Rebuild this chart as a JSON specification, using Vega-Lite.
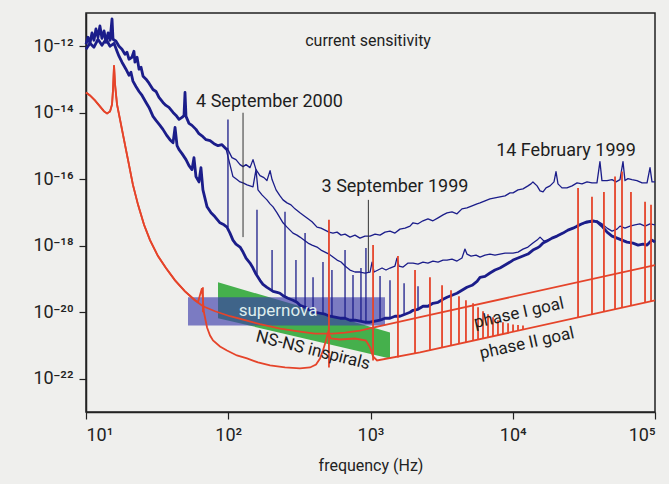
{
  "$schema": "https://vega.github.io/schema/vega-lite/v6.json",
  "width": 569,
  "height": 399,
  "autosize": "none",
  "padding": {"left": 86, "top": 13, "right": 14, "bottom": 72},
  "background": "#efefed",
  "config": {
    "view": {"stroke": "#222222", "strokeWidth": 1.5},
    "font": "Roboto",
    "axis": {"grid": false, "domainColor": "#222222", "tickColor": "#222222", "labelColor": "#222222", "titleColor": "#222222", "labelFont": "Roboto", "titleFont": "Roboto", "domainWidth": 1.5, "tickWidth": 1.2, "tickSize": 7}
  },
  "datasets": {
    "blue": [
      {"s":"band","lf":1.000,"lh":-11.94},{"s":"band","lf":1.014,"lh":-11.73},{"s":"band","lf":1.028,"lh":-11.91},{"s":"band","lf":1.042,"lh":-11.60},{"s":"band","lf":1.056,"lh":-11.82},{"s":"band","lf":1.070,"lh":-11.48},{"s":"band","lf":1.084,"lh":-11.73},{"s":"band","lf":1.098,"lh":-11.39},{"s":"band","lf":1.112,"lh":-11.76},{"s":"band","lf":1.127,"lh":-11.54},{"s":"band","lf":1.141,"lh":-11.88},{"s":"band","lf":1.155,"lh":-11.60},{"s":"band","lf":1.169,"lh":-11.82},{"s":"band","lf":1.183,"lh":-11.18},{"s":"band","lf":1.190,"lh":-11.79},{"s":"band","lf":1.211,"lh":-11.85},{"s":"band","lf":1.232,"lh":-12.00},{"s":"band","lf":1.253,"lh":-12.09},{"s":"band","lf":1.274,"lh":-12.24},{"s":"band","lf":1.288,"lh":-12.18},{"s":"band","lf":1.302,"lh":-12.39},{"s":"band","lf":1.323,"lh":-12.33},{"s":"band","lf":1.337,"lh":-12.15},{"s":"band","lf":1.344,"lh":-12.48},{"s":"band","lf":1.359,"lh":-12.33},{"s":"band","lf":1.373,"lh":-12.69},{"s":"band","lf":1.387,"lh":-12.63},{"s":"band","lf":1.401,"lh":-12.90},{"s":"band","lf":1.422,"lh":-12.99},{"s":"band","lf":1.443,"lh":-13.11},{"s":"band","lf":1.471,"lh":-13.30},{"s":"band","lf":1.492,"lh":-13.36},{"s":"band","lf":1.513,"lh":-13.54},{"s":"band","lf":1.541,"lh":-13.69},{"s":"band","lf":1.562,"lh":-13.78},{"s":"band","lf":1.583,"lh":-13.84},{"s":"band","lf":1.612,"lh":-13.99},{"s":"band","lf":1.633,"lh":-14.08},{"s":"band","lf":1.654,"lh":-14.20},{"s":"band","lf":1.675,"lh":-14.14},{"s":"band","lf":1.689,"lh":-14.08},{"s":"band","lf":1.696,"lh":-13.39},{"s":"band","lf":1.703,"lh":-14.11},{"s":"band","lf":1.724,"lh":-14.32},{"s":"band","lf":1.745,"lh":-14.38},{"s":"band","lf":1.773,"lh":-14.50},{"s":"band","lf":1.794,"lh":-14.63},{"s":"band","lf":1.822,"lh":-14.72},{"s":"band","lf":1.844,"lh":-14.81},{"s":"band","lf":1.872,"lh":-14.84},{"s":"band","lf":1.900,"lh":-14.93},{"s":"band","lf":1.928,"lh":-14.99},{"s":"band","lf":1.956,"lh":-14.96},{"s":"band","lf":1.984,"lh":-15.08},{"s":"band","lf":1.998,"lh":-15.11},

      {"s":"14 February 1999","lf":1.998,"lh":-15.11},{"s":"14 February 1999","lf":2.026,"lh":-15.35},{"s":"14 February 1999","lf":2.054,"lh":-15.41},{"s":"14 February 1999","lf":2.083,"lh":-15.56},{"s":"14 February 1999","lf":2.104,"lh":-15.62},{"s":"14 February 1999","lf":2.125,"lh":-15.56},{"s":"14 February 1999","lf":2.153,"lh":-15.65},{"s":"14 February 1999","lf":2.174,"lh":-15.41},{"s":"14 February 1999","lf":2.195,"lh":-15.71},{"s":"14 February 1999","lf":2.223,"lh":-15.89},{"s":"14 February 1999","lf":2.251,"lh":-15.95},{"s":"14 February 1999","lf":2.272,"lh":-16.04},{"s":"14 February 1999","lf":2.294,"lh":-15.74},{"s":"14 February 1999","lf":2.308,"lh":-16.01},{"s":"14 February 1999","lf":2.336,"lh":-16.32},{"s":"14 February 1999","lf":2.364,"lh":-16.50},{"s":"14 February 1999","lf":2.385,"lh":-16.62},{"s":"14 February 1999","lf":2.413,"lh":-16.71},{"s":"14 February 1999","lf":2.441,"lh":-16.77},{"s":"14 February 1999","lf":2.469,"lh":-16.89},{"s":"14 February 1999","lf":2.504,"lh":-17.01},{"s":"14 February 1999","lf":2.532,"lh":-17.10},{"s":"14 February 1999","lf":2.561,"lh":-17.19},{"s":"14 February 1999","lf":2.589,"lh":-17.28},{"s":"14 February 1999","lf":2.624,"lh":-17.44},{"s":"14 February 1999","lf":2.652,"lh":-17.47},{"s":"14 February 1999","lf":2.680,"lh":-17.53},{"s":"14 February 1999","lf":2.708,"lh":-17.59},{"s":"14 February 1999","lf":2.736,"lh":-17.62},{"s":"14 February 1999","lf":2.765,"lh":-17.59},{"s":"14 February 1999","lf":2.793,"lh":-17.68},{"s":"14 February 1999","lf":2.821,"lh":-17.65},{"s":"14 February 1999","lf":2.856,"lh":-17.74},{"s":"14 February 1999","lf":2.891,"lh":-17.68},{"s":"14 February 1999","lf":2.926,"lh":-17.77},{"s":"14 February 1999","lf":2.961,"lh":-17.71},{"s":"14 February 1999","lf":2.997,"lh":-17.71},{"s":"14 February 1999","lf":3.032,"lh":-17.65},{"s":"14 February 1999","lf":3.067,"lh":-17.68},{"s":"14 February 1999","lf":3.102,"lh":-17.59},{"s":"14 February 1999","lf":3.137,"lh":-17.56},{"s":"14 February 1999","lf":3.172,"lh":-17.62},{"s":"14 February 1999","lf":3.207,"lh":-17.50},{"s":"14 February 1999","lf":3.243,"lh":-17.47},{"s":"14 February 1999","lf":3.278,"lh":-17.41},{"s":"14 February 1999","lf":3.299,"lh":-17.31},{"s":"14 February 1999","lf":3.334,"lh":-17.34},{"s":"14 February 1999","lf":3.369,"lh":-17.25},{"s":"14 February 1999","lf":3.404,"lh":-17.19},{"s":"14 February 1999","lf":3.439,"lh":-17.25},{"s":"14 February 1999","lf":3.475,"lh":-17.16},{"s":"14 February 1999","lf":3.510,"lh":-17.07},{"s":"14 February 1999","lf":3.538,"lh":-17.01},{"s":"14 February 1999","lf":3.573,"lh":-16.98},{"s":"14 February 1999","lf":3.608,"lh":-17.04},{"s":"14 February 1999","lf":3.643,"lh":-16.89},{"s":"14 February 1999","lf":3.678,"lh":-16.86},{"s":"14 February 1999","lf":3.714,"lh":-16.80},{"s":"14 February 1999","lf":3.749,"lh":-16.74},{"s":"14 February 1999","lf":3.770,"lh":-16.71},{"s":"14 February 1999","lf":3.805,"lh":-16.65},{"s":"14 February 1999","lf":3.840,"lh":-16.59},{"s":"14 February 1999","lf":3.875,"lh":-16.56},{"s":"14 February 1999","lf":3.910,"lh":-16.53},{"s":"14 February 1999","lf":3.946,"lh":-16.50},{"s":"14 February 1999","lf":3.981,"lh":-16.41},{"s":"14 February 1999","lf":4.002,"lh":-16.41},{"s":"14 February 1999","lf":4.037,"lh":-16.32},{"s":"14 February 1999","lf":4.072,"lh":-16.29},{"s":"14 February 1999","lf":4.107,"lh":-16.20},{"s":"14 February 1999","lf":4.128,"lh":-16.14},{"s":"14 February 1999","lf":4.142,"lh":-16.08},{"s":"14 February 1999","lf":4.171,"lh":-16.20},{"s":"14 February 1999","lf":4.192,"lh":-16.35},{"s":"14 February 1999","lf":4.213,"lh":-16.38},{"s":"14 February 1999","lf":4.234,"lh":-16.26},{"s":"14 February 1999","lf":4.262,"lh":-16.20},{"s":"14 February 1999","lf":4.290,"lh":-16.08},{"s":"14 February 1999","lf":4.304,"lh":-15.77},{"s":"14 February 1999","lf":4.318,"lh":-16.14},{"s":"14 February 1999","lf":4.346,"lh":-16.26},{"s":"14 February 1999","lf":4.381,"lh":-16.26},{"s":"14 February 1999","lf":4.417,"lh":-16.20},{"s":"14 February 1999","lf":4.452,"lh":-16.11},{"s":"14 February 1999","lf":4.487,"lh":-16.14},{"s":"14 February 1999","lf":4.522,"lh":-16.08},{"s":"14 February 1999","lf":4.557,"lh":-16.11},{"s":"14 February 1999","lf":4.592,"lh":-16.11},{"s":"14 February 1999","lf":4.613,"lh":-15.47},{"s":"14 February 1999","lf":4.627,"lh":-16.04},{"s":"14 February 1999","lf":4.663,"lh":-16.04},{"s":"14 February 1999","lf":4.698,"lh":-16.01},{"s":"14 February 1999","lf":4.726,"lh":-16.08},{"s":"14 February 1999","lf":4.754,"lh":-16.01},{"s":"14 February 1999","lf":4.775,"lh":-15.47},{"s":"14 February 1999","lf":4.789,"lh":-16.04},{"s":"14 February 1999","lf":4.810,"lh":-15.98},{"s":"14 February 1999","lf":4.838,"lh":-16.01},{"s":"14 February 1999","lf":4.873,"lh":-16.04},{"s":"14 February 1999","lf":4.909,"lh":-16.11},{"s":"14 February 1999","lf":4.944,"lh":-16.11},{"s":"14 February 1999","lf":4.965,"lh":-15.65},{"s":"14 February 1999","lf":4.979,"lh":-16.08},{"s":"14 February 1999","lf":5.000,"lh":-16.08},

      {"s":"3 September 1999","lf":1.984,"lh":-15.08},{"s":"3 September 1999","lf":2.012,"lh":-15.56},{"s":"3 September 1999","lf":2.033,"lh":-15.92},{"s":"3 September 1999","lf":2.061,"lh":-16.01},{"s":"3 September 1999","lf":2.083,"lh":-16.08},{"s":"3 September 1999","lf":2.104,"lh":-16.11},{"s":"3 September 1999","lf":2.132,"lh":-16.17},{"s":"3 September 1999","lf":2.153,"lh":-16.20},{"s":"3 September 1999","lf":2.174,"lh":-16.23},{"s":"3 September 1999","lf":2.195,"lh":-15.71},{"s":"3 September 1999","lf":2.209,"lh":-16.32},{"s":"3 September 1999","lf":2.237,"lh":-16.47},{"s":"3 September 1999","lf":2.272,"lh":-16.62},{"s":"3 September 1999","lf":2.294,"lh":-16.74},{"s":"3 September 1999","lf":2.315,"lh":-16.83},{"s":"3 September 1999","lf":2.343,"lh":-17.01},{"s":"3 September 1999","lf":2.364,"lh":-17.16},{"s":"3 September 1999","lf":2.385,"lh":-17.31},{"s":"3 September 1999","lf":2.413,"lh":-17.44},{"s":"3 September 1999","lf":2.434,"lh":-17.53},{"s":"3 September 1999","lf":2.455,"lh":-17.62},{"s":"3 September 1999","lf":2.483,"lh":-17.68},{"s":"3 September 1999","lf":2.504,"lh":-17.74},{"s":"3 September 1999","lf":2.532,"lh":-17.83},{"s":"3 September 1999","lf":2.561,"lh":-17.92},{"s":"3 September 1999","lf":2.589,"lh":-17.98},{"s":"3 September 1999","lf":2.624,"lh":-18.04},{"s":"3 September 1999","lf":2.652,"lh":-18.13},{"s":"3 September 1999","lf":2.680,"lh":-18.19},{"s":"3 September 1999","lf":2.708,"lh":-18.25},{"s":"3 September 1999","lf":2.736,"lh":-18.34},{"s":"3 September 1999","lf":2.765,"lh":-18.43},{"s":"3 September 1999","lf":2.793,"lh":-18.49},{"s":"3 September 1999","lf":2.821,"lh":-18.61},{"s":"3 September 1999","lf":2.856,"lh":-18.73},{"s":"3 September 1999","lf":2.891,"lh":-18.79},{"s":"3 September 1999","lf":2.926,"lh":-18.79},{"s":"3 September 1999","lf":2.961,"lh":-18.82},{"s":"3 September 1999","lf":2.997,"lh":-18.79},{"s":"3 September 1999","lf":3.011,"lh":-18.49},{"s":"3 September 1999","lf":3.025,"lh":-18.79},{"s":"3 September 1999","lf":3.053,"lh":-18.73},{"s":"3 September 1999","lf":3.081,"lh":-18.67},{"s":"3 September 1999","lf":3.109,"lh":-18.73},{"s":"3 September 1999","lf":3.137,"lh":-18.67},{"s":"3 September 1999","lf":3.172,"lh":-18.61},{"s":"3 September 1999","lf":3.186,"lh":-18.37},{"s":"3 September 1999","lf":3.200,"lh":-18.61},{"s":"3 September 1999","lf":3.229,"lh":-18.64},{"s":"3 September 1999","lf":3.264,"lh":-18.52},{"s":"3 September 1999","lf":3.299,"lh":-18.52},{"s":"3 September 1999","lf":3.334,"lh":-18.55},{"s":"3 September 1999","lf":3.369,"lh":-18.49},{"s":"3 September 1999","lf":3.404,"lh":-18.52},{"s":"3 September 1999","lf":3.439,"lh":-18.46},{"s":"3 September 1999","lf":3.475,"lh":-18.49},{"s":"3 September 1999","lf":3.510,"lh":-18.43},{"s":"3 September 1999","lf":3.538,"lh":-18.43},{"s":"3 September 1999","lf":3.573,"lh":-18.40},{"s":"3 September 1999","lf":3.608,"lh":-18.46},{"s":"3 September 1999","lf":3.643,"lh":-18.37},{"s":"3 September 1999","lf":3.664,"lh":-18.10},{"s":"3 September 1999","lf":3.678,"lh":-18.25},{"s":"3 September 1999","lf":3.707,"lh":-18.31},{"s":"3 September 1999","lf":3.742,"lh":-18.28},{"s":"3 September 1999","lf":3.770,"lh":-18.34},{"s":"3 September 1999","lf":3.805,"lh":-18.28},{"s":"3 September 1999","lf":3.840,"lh":-18.25},{"s":"3 September 1999","lf":3.875,"lh":-18.28},{"s":"3 September 1999","lf":3.910,"lh":-18.25},{"s":"3 September 1999","lf":3.946,"lh":-18.22},{"s":"3 September 1999","lf":3.981,"lh":-18.22},{"s":"3 September 1999","lf":4.002,"lh":-18.22},{"s":"3 September 1999","lf":4.037,"lh":-18.19},{"s":"3 September 1999","lf":4.072,"lh":-18.10},{"s":"3 September 1999","lf":4.107,"lh":-18.04},{"s":"3 September 1999","lf":4.142,"lh":-17.92},{"s":"3 September 1999","lf":4.171,"lh":-17.83},{"s":"3 September 1999","lf":4.192,"lh":-17.74},{"s":"3 September 1999","lf":4.220,"lh":-17.86},{"s":"3 September 1999","lf":4.241,"lh":-17.83},{"s":"3 September 1999","lf":4.276,"lh":-17.77},{"s":"3 September 1999","lf":4.311,"lh":-17.71},{"s":"3 September 1999","lf":4.353,"lh":-17.62},{"s":"3 September 1999","lf":4.388,"lh":-17.53},{"s":"3 September 1999","lf":4.424,"lh":-17.47},{"s":"3 September 1999","lf":4.452,"lh":-17.41},{"s":"3 September 1999","lf":4.487,"lh":-17.34},{"s":"3 September 1999","lf":4.522,"lh":-17.31},{"s":"3 September 1999","lf":4.564,"lh":-17.28},{"s":"3 September 1999","lf":4.592,"lh":-17.25},{"s":"3 September 1999","lf":4.627,"lh":-17.34},{"s":"3 September 1999","lf":4.663,"lh":-17.47},{"s":"3 September 1999","lf":4.698,"lh":-17.56},{"s":"3 September 1999","lf":4.733,"lh":-17.50},{"s":"3 September 1999","lf":4.754,"lh":-17.41},{"s":"3 September 1999","lf":4.789,"lh":-17.47},{"s":"3 September 1999","lf":4.824,"lh":-17.41},{"s":"3 September 1999","lf":4.859,"lh":-17.37},{"s":"3 September 1999","lf":4.894,"lh":-17.34},{"s":"3 September 1999","lf":4.930,"lh":-17.41},{"s":"3 September 1999","lf":4.965,"lh":-17.34},{"s":"3 September 1999","lf":5.000,"lh":-17.37},

      {"s":"4 September 2000","lf":1.000,"lh":-12.09},{"s":"4 September 2000","lf":1.028,"lh":-11.91},{"s":"4 September 2000","lf":1.056,"lh":-12.03},{"s":"4 September 2000","lf":1.084,"lh":-11.79},{"s":"4 September 2000","lf":1.112,"lh":-11.97},{"s":"4 September 2000","lf":1.141,"lh":-11.79},{"s":"4 September 2000","lf":1.169,"lh":-12.00},{"s":"4 September 2000","lf":1.197,"lh":-11.91},{"s":"4 September 2000","lf":1.218,"lh":-12.15},{"s":"4 September 2000","lf":1.232,"lh":-12.30},{"s":"4 September 2000","lf":1.253,"lh":-12.48},{"s":"4 September 2000","lf":1.281,"lh":-12.69},{"s":"4 September 2000","lf":1.302,"lh":-12.87},{"s":"4 September 2000","lf":1.316,"lh":-12.78},{"s":"4 September 2000","lf":1.330,"lh":-13.05},{"s":"4 September 2000","lf":1.351,"lh":-13.21},{"s":"4 September 2000","lf":1.373,"lh":-13.36},{"s":"4 September 2000","lf":1.394,"lh":-13.48},{"s":"4 September 2000","lf":1.422,"lh":-13.69},{"s":"4 September 2000","lf":1.443,"lh":-13.84},{"s":"4 September 2000","lf":1.471,"lh":-14.11},{"s":"4 September 2000","lf":1.492,"lh":-14.23},{"s":"4 September 2000","lf":1.520,"lh":-14.38},{"s":"4 September 2000","lf":1.541,"lh":-14.50},{"s":"4 September 2000","lf":1.569,"lh":-14.69},{"s":"4 September 2000","lf":1.590,"lh":-14.81},{"s":"4 September 2000","lf":1.612,"lh":-14.90},{"s":"4 September 2000","lf":1.626,"lh":-14.44},{"s":"4 September 2000","lf":1.640,"lh":-14.99},{"s":"4 September 2000","lf":1.654,"lh":-15.11},{"s":"4 September 2000","lf":1.675,"lh":-15.23},{"s":"4 September 2000","lf":1.703,"lh":-15.41},{"s":"4 September 2000","lf":1.724,"lh":-15.59},{"s":"4 September 2000","lf":1.745,"lh":-15.71},{"s":"4 September 2000","lf":1.759,"lh":-15.35},{"s":"4 September 2000","lf":1.773,"lh":-15.92},{"s":"4 September 2000","lf":1.794,"lh":-16.08},{"s":"4 September 2000","lf":1.808,"lh":-15.65},{"s":"4 September 2000","lf":1.822,"lh":-16.32},{"s":"4 September 2000","lf":1.851,"lh":-16.83},{"s":"4 September 2000","lf":1.879,"lh":-17.01},{"s":"4 September 2000","lf":1.907,"lh":-17.13},{"s":"4 September 2000","lf":1.942,"lh":-17.31},{"s":"4 September 2000","lf":1.970,"lh":-17.37},{"s":"4 September 2000","lf":1.991,"lh":-17.44},{"s":"4 September 2000","lf":2.012,"lh":-17.62},{"s":"4 September 2000","lf":2.033,"lh":-17.83},{"s":"4 September 2000","lf":2.054,"lh":-17.95},{"s":"4 September 2000","lf":2.083,"lh":-18.04},{"s":"4 September 2000","lf":2.104,"lh":-18.19},{"s":"4 September 2000","lf":2.125,"lh":-18.37},{"s":"4 September 2000","lf":2.153,"lh":-18.52},{"s":"4 September 2000","lf":2.174,"lh":-18.67},{"s":"4 September 2000","lf":2.195,"lh":-18.85},{"s":"4 September 2000","lf":2.223,"lh":-19.04},{"s":"4 September 2000","lf":2.244,"lh":-19.16},{"s":"4 September 2000","lf":2.272,"lh":-19.25},{"s":"4 September 2000","lf":2.294,"lh":-19.31},{"s":"4 September 2000","lf":2.315,"lh":-19.37},{"s":"4 September 2000","lf":2.343,"lh":-19.40},{"s":"4 September 2000","lf":2.364,"lh":-19.43},{"s":"4 September 2000","lf":2.392,"lh":-19.52},{"s":"4 September 2000","lf":2.420,"lh":-19.58},{"s":"4 September 2000","lf":2.455,"lh":-19.64},{"s":"4 September 2000","lf":2.483,"lh":-19.70},{"s":"4 September 2000","lf":2.504,"lh":-19.79},{"s":"4 September 2000","lf":2.540,"lh":-19.85},{"s":"4 September 2000","lf":2.575,"lh":-19.94},{"s":"4 September 2000","lf":2.610,"lh":-20.00},{"s":"4 September 2000","lf":2.645,"lh":-20.03},{"s":"4 September 2000","lf":2.680,"lh":-20.06},{"s":"4 September 2000","lf":2.715,"lh":-20.12},{"s":"4 September 2000","lf":2.750,"lh":-20.15},{"s":"4 September 2000","lf":2.786,"lh":-20.18},{"s":"4 September 2000","lf":2.821,"lh":-20.18},{"s":"4 September 2000","lf":2.856,"lh":-20.24},{"s":"4 September 2000","lf":2.891,"lh":-20.24},{"s":"4 September 2000","lf":2.926,"lh":-20.27},{"s":"4 September 2000","lf":2.961,"lh":-20.30},{"s":"4 September 2000","lf":2.997,"lh":-20.30},{"s":"4 September 2000","lf":3.032,"lh":-20.27},{"s":"4 September 2000","lf":3.067,"lh":-20.24},{"s":"4 September 2000","lf":3.102,"lh":-20.18},{"s":"4 September 2000","lf":3.137,"lh":-20.18},{"s":"4 September 2000","lf":3.172,"lh":-20.12},{"s":"4 September 2000","lf":3.207,"lh":-20.12},{"s":"4 September 2000","lf":3.243,"lh":-20.06},{"s":"4 September 2000","lf":3.278,"lh":-20.00},{"s":"4 September 2000","lf":3.299,"lh":-19.94},{"s":"4 September 2000","lf":3.334,"lh":-19.91},{"s":"4 September 2000","lf":3.369,"lh":-19.82},{"s":"4 September 2000","lf":3.404,"lh":-19.82},{"s":"4 September 2000","lf":3.439,"lh":-19.73},{"s":"4 September 2000","lf":3.475,"lh":-19.70},{"s":"4 September 2000","lf":3.510,"lh":-19.61},{"s":"4 September 2000","lf":3.538,"lh":-19.55},{"s":"4 September 2000","lf":3.573,"lh":-19.49},{"s":"4 September 2000","lf":3.608,"lh":-19.43},{"s":"4 September 2000","lf":3.643,"lh":-19.34},{"s":"4 September 2000","lf":3.678,"lh":-19.25},{"s":"4 September 2000","lf":3.714,"lh":-19.19},{"s":"4 September 2000","lf":3.749,"lh":-19.07},{"s":"4 September 2000","lf":3.770,"lh":-18.95},{"s":"4 September 2000","lf":3.805,"lh":-18.92},{"s":"4 September 2000","lf":3.840,"lh":-18.82},{"s":"4 September 2000","lf":3.875,"lh":-18.73},{"s":"4 September 2000","lf":3.910,"lh":-18.67},{"s":"4 September 2000","lf":3.946,"lh":-18.58},{"s":"4 September 2000","lf":3.981,"lh":-18.49},{"s":"4 September 2000","lf":4.002,"lh":-18.43},{"s":"4 September 2000","lf":4.037,"lh":-18.37},{"s":"4 September 2000","lf":4.072,"lh":-18.31},{"s":"4 September 2000","lf":4.107,"lh":-18.25},{"s":"4 September 2000","lf":4.142,"lh":-18.13},{"s":"4 September 2000","lf":4.171,"lh":-18.07},{"s":"4 September 2000","lf":4.192,"lh":-18.01},{"s":"4 September 2000","lf":4.213,"lh":-17.92},{"s":"4 September 2000","lf":4.241,"lh":-17.86},{"s":"4 September 2000","lf":4.276,"lh":-17.77},{"s":"4 September 2000","lf":4.311,"lh":-17.71},{"s":"4 September 2000","lf":4.353,"lh":-17.62},{"s":"4 September 2000","lf":4.388,"lh":-17.53},{"s":"4 September 2000","lf":4.424,"lh":-17.47},{"s":"4 September 2000","lf":4.452,"lh":-17.41},{"s":"4 September 2000","lf":4.487,"lh":-17.34},{"s":"4 September 2000","lf":4.522,"lh":-17.28},{"s":"4 September 2000","lf":4.564,"lh":-17.25},{"s":"4 September 2000","lf":4.592,"lh":-17.28},{"s":"4 September 2000","lf":4.627,"lh":-17.41},{"s":"4 September 2000","lf":4.663,"lh":-17.59},{"s":"4 September 2000","lf":4.698,"lh":-17.71},{"s":"4 September 2000","lf":4.733,"lh":-17.77},{"s":"4 September 2000","lf":4.768,"lh":-17.83},{"s":"4 September 2000","lf":4.803,"lh":-17.89},{"s":"4 September 2000","lf":4.845,"lh":-17.92},{"s":"4 September 2000","lf":4.881,"lh":-17.98},{"s":"4 September 2000","lf":4.916,"lh":-17.95},{"s":"4 September 2000","lf":4.944,"lh":-17.98},{"s":"4 September 2000","lf":4.979,"lh":-17.83},{"s":"4 September 2000","lf":5.000,"lh":-17.89}
    ],
    "blueSpikes": [
      {"lf":1.998,"lo":-17.44,"hi":-14.20},{"lf":2.202,"lo":-18.85,"hi":-16.92},{"lf":2.308,"lo":-19.34,"hi":-18.13},{"lf":2.399,"lo":-19.52,"hi":-16.98},{"lf":2.476,"lo":-19.67,"hi":-18.43},{"lf":2.540,"lo":-19.82,"hi":-17.62},{"lf":2.596,"lo":-19.97,"hi":-18.95},{"lf":2.666,"lo":-20.03,"hi":-18.49},{"lf":2.729,"lo":-20.12,"hi":-18.73},{"lf":2.821,"lo":-20.18,"hi":-18.13},{"lf":2.877,"lo":-20.24,"hi":-18.88},{"lf":2.933,"lo":-20.27,"hi":-18.67},{"lf":2.968,"lo":-20.30,"hi":-18.07},{"lf":3.067,"lo":-20.24,"hi":-18.91},{"lf":3.137,"lo":-20.18,"hi":-19.04},{"lf":3.236,"lo":-20.06,"hi":-19.13},{"lf":3.334,"lo":-19.91,"hi":-19.22}
    ],
    "red": [
      {"s":"phase I goal","lf":1.000,"lh":-13.39},{"s":"phase I goal","lf":1.028,"lh":-13.48},{"s":"phase I goal","lf":1.063,"lh":-13.63},{"s":"phase I goal","lf":1.098,"lh":-13.81},{"s":"phase I goal","lf":1.127,"lh":-13.96},{"s":"phase I goal","lf":1.148,"lh":-14.02},{"s":"phase I goal","lf":1.169,"lh":-13.96},{"s":"phase I goal","lf":1.183,"lh":-13.75},{"s":"phase I goal","lf":1.190,"lh":-13.30},{"s":"phase I goal","lf":1.197,"lh":-12.57},{"s":"phase I goal","lf":1.204,"lh":-13.14},{"s":"phase I goal","lf":1.218,"lh":-13.75},{"s":"phase I goal","lf":1.239,"lh":-14.20},{"s":"phase I goal","lf":1.267,"lh":-14.81},{"s":"phase I goal","lf":1.295,"lh":-15.41},{"s":"phase I goal","lf":1.330,"lh":-16.17},{"s":"phase I goal","lf":1.366,"lh":-16.77},{"s":"phase I goal","lf":1.408,"lh":-17.37},{"s":"phase I goal","lf":1.450,"lh":-17.83},{"s":"phase I goal","lf":1.506,"lh":-18.31},{"s":"phase I goal","lf":1.562,"lh":-18.67},{"s":"phase I goal","lf":1.626,"lh":-19.04},{"s":"phase I goal","lf":1.696,"lh":-19.37},{"s":"phase I goal","lf":1.766,"lh":-19.64},{"s":"phase I goal","lf":1.822,"lh":-19.82},{"s":"phase I goal","lf":1.907,"lh":-19.97},{"s":"phase I goal","lf":2.012,"lh":-20.12},{"s":"phase I goal","lf":2.118,"lh":-20.24},{"s":"phase I goal","lf":2.223,"lh":-20.36},{"s":"phase I goal","lf":2.364,"lh":-20.49},{"s":"phase I goal","lf":2.504,"lh":-20.58},{"s":"phase I goal","lf":2.610,"lh":-20.64},{"s":"phase I goal","lf":2.680,"lh":-20.64},{"s":"phase I goal","lf":2.736,"lh":-20.64},{"s":"phase I goal","lf":2.821,"lh":-20.61},{"s":"phase I goal","lf":2.926,"lh":-20.55},{"s":"phase I goal","lf":3.018,"lh":-20.46},{"s":"phase I goal","lf":3.348,"lh":-20.15},{"s":"phase I goal","lf":5.000,"lh":-18.58},

      {"s":"phase II goal","lf":1.000,"lh":-13.39},{"s":"phase II goal","lf":1.028,"lh":-13.48},{"s":"phase II goal","lf":1.063,"lh":-13.63},{"s":"phase II goal","lf":1.098,"lh":-13.81},{"s":"phase II goal","lf":1.127,"lh":-13.96},{"s":"phase II goal","lf":1.148,"lh":-14.02},{"s":"phase II goal","lf":1.169,"lh":-13.96},{"s":"phase II goal","lf":1.183,"lh":-13.75},{"s":"phase II goal","lf":1.190,"lh":-13.30},{"s":"phase II goal","lf":1.197,"lh":-12.57},{"s":"phase II goal","lf":1.204,"lh":-13.14},{"s":"phase II goal","lf":1.218,"lh":-13.75},{"s":"phase II goal","lf":1.239,"lh":-14.20},{"s":"phase II goal","lf":1.267,"lh":-14.81},{"s":"phase II goal","lf":1.295,"lh":-15.41},{"s":"phase II goal","lf":1.330,"lh":-16.17},{"s":"phase II goal","lf":1.366,"lh":-16.77},{"s":"phase II goal","lf":1.408,"lh":-17.37},{"s":"phase II goal","lf":1.450,"lh":-17.83},{"s":"phase II goal","lf":1.506,"lh":-18.31},{"s":"phase II goal","lf":1.562,"lh":-18.67},{"s":"phase II goal","lf":1.626,"lh":-19.04},{"s":"phase II goal","lf":1.696,"lh":-19.37},{"s":"phase II goal","lf":1.766,"lh":-19.64},{"s":"phase II goal","lf":1.787,"lh":-19.70},{"s":"phase II goal","lf":1.815,"lh":-19.28},{"s":"phase II goal","lf":1.829,"lh":-20.00},{"s":"phase II goal","lf":1.851,"lh":-20.46},{"s":"phase II goal","lf":1.872,"lh":-20.70},{"s":"phase II goal","lf":1.893,"lh":-20.85},{"s":"phase II goal","lf":1.942,"lh":-21.03},{"s":"phase II goal","lf":1.991,"lh":-21.15},{"s":"phase II goal","lf":2.061,"lh":-21.30},{"s":"phase II goal","lf":2.132,"lh":-21.39},{"s":"phase II goal","lf":2.209,"lh":-21.51},{"s":"phase II goal","lf":2.294,"lh":-21.60},{"s":"phase II goal","lf":2.399,"lh":-21.66},{"s":"phase II goal","lf":2.504,"lh":-21.69},{"s":"phase II goal","lf":2.575,"lh":-21.66},{"s":"phase II goal","lf":2.617,"lh":-21.57},{"s":"phase II goal","lf":2.645,"lh":-21.39},{"s":"phase II goal","lf":2.666,"lh":-21.15},{"s":"phase II goal","lf":2.687,"lh":-20.85},{"s":"phase II goal","lf":2.701,"lh":-20.61},{"s":"phase II goal","lf":2.722,"lh":-20.79},{"s":"phase II goal","lf":2.786,"lh":-20.82},{"s":"phase II goal","lf":2.891,"lh":-20.79},{"s":"phase II goal","lf":2.968,"lh":-20.85},{"s":"phase II goal","lf":2.997,"lh":-21.06},{"s":"phase II goal","lf":3.018,"lh":-21.33},{"s":"phase II goal","lf":3.046,"lh":-21.45},{"s":"phase II goal","lf":3.348,"lh":-21.21},{"s":"phase II goal","lf":5.000,"lh":-19.64}
    ],
    "redSpikes": [
      {"lf":1.822,"lo":-20.00,"hi":-19.25},{"lf":2.708,"lo":-21.66,"hi":-17.22},{"lf":3.018,"lo":-21.45,"hi":-17.98},{"lf":3.193,"lo":-21.36,"hi":-18.31},{"lf":3.313,"lo":-21.24,"hi":-18.73},{"lf":3.418,"lo":-21.14,"hi":-18.95},{"lf":3.503,"lo":-21.06,"hi":-19.19},{"lf":3.566,"lo":-21.00,"hi":-19.34},{"lf":3.622,"lo":-20.95,"hi":-19.52},{"lf":3.671,"lo":-20.91,"hi":-19.64},{"lf":3.721,"lo":-20.86,"hi":-19.73},{"lf":3.756,"lo":-20.83,"hi":-19.85},{"lf":3.791,"lo":-20.80,"hi":-19.97},{"lf":3.826,"lo":-20.76,"hi":-20.06},{"lf":3.861,"lo":-20.73,"hi":-20.15},{"lf":3.896,"lo":-20.69,"hi":-20.24},{"lf":3.931,"lo":-20.66,"hi":-20.30},{"lf":3.967,"lo":-20.63,"hi":-20.33},{"lf":4.002,"lo":-20.59,"hi":-20.37},{"lf":4.037,"lo":-20.56,"hi":-20.38},{"lf":4.072,"lo":-20.53,"hi":-20.40},{"lf":4.459,"lo":-20.15,"hi":-16.26},{"lf":4.557,"lo":-20.06,"hi":-16.53},{"lf":4.641,"lo":-19.98,"hi":-16.38},{"lf":4.719,"lo":-19.91,"hi":-15.92},{"lf":4.768,"lo":-19.86,"hi":-15.77},{"lf":4.831,"lo":-19.80,"hi":-16.38},{"lf":4.930,"lo":-19.71,"hi":-16.68},{"lf":4.972,"lo":-19.67,"hi":-16.77}
    ],
    "leaders": [
      {"label":"4 September 2000","lf":2.104,"lo":-17.74,"hi":-14.00},
      {"label":"3 September 1999","lf":2.985,"lo":-18.79,"hi":-16.62}
    ],
    "dates": [
      {"label":"4 September 2000","lf":2.290,"lh":-13.69},
      {"label":"3 September 1999","lf":3.172,"lh":-16.23},
      {"label":"14 February 1999","lf":4.374,"lh":-15.14}
    ],
    "heading": [{"label":"current sensitivity","lf":2.983,"lh":-11.85}],
    "inspiral": [
      {"lf":1.928,"top":-19.10,"bot":-20.18},
      {"lf":3.137,"top":-20.61,"bot":-21.39}
    ],
    "supernova": [{"lf0":1.717,"lf1":3.102,"top":-19.55,"bot":-20.40}],
    "snLabel": [{"label":"supernova","lf":2.350,"lh":-19.97}],
    "nsLabel": [{"label":"NS-NS inspirals","lf":2.596,"lh":-21.15}],
    "goalLabels": [
      {"label":"phase I goal","lf":4.044,"lh":-20.03},
      {"label":"phase II goal","lf":4.100,"lh":-20.94}
    ]
  },
  "encoding": {
    "x": {"field": "lf", "type": "quantitative", "scale": {"domain": [1, 5], "nice": false, "zero": false},
      "axis": {"title": "frequency (Hz)", "values": [1, 2, 3, 4, 5], "labelFontSize": 18, "labelPadding": 7, "titleFontSize": 16, "titleFontWeight": "normal", "titlePadding": 13,
        "labelExpr": "datum.value == 1 ? '10¹' : datum.value == 2 ? '10²' : datum.value == 3 ? '10³' : datum.value == 4 ? '10⁴' : '10⁵'"}}
  },
  "layer": [
    {
      "data": {"name": "inspiral"},
      "mark": {"type": "area", "color": "#45b04c", "opacity": 1},
      "encoding": {
        "y": {"field": "top", "type": "quantitative", "scale": {"domain": [-23, -11], "nice": false, "zero": false},
          "axis": {"title": null, "values": [-22, -20, -18, -16, -14, -12], "labelFontSize": 18, "labelPadding": 6,
            "labelExpr": "datum.value == -22 ? '10⁻²²' : datum.value == -20 ? '10⁻²⁰' : datum.value == -18 ? '10⁻¹⁸' : datum.value == -16 ? '10⁻¹⁶' : datum.value == -14 ? '10⁻¹⁴' : '10⁻¹²'"}},
        "y2": {"field": "bot"}
      }
    },
    {
      "data": {"name": "supernova"},
      "mark": {"type": "rect", "color": "#3c3caa", "opacity": 0.65},
      "encoding": {
        "x": {"field": "lf0", "type": "quantitative"},
        "x2": {"field": "lf1"},
        "y": {"field": "top", "type": "quantitative"},
        "y2": {"field": "bot"}
      }
    },
    {
      "data": {"name": "blue"},
      "transform": [{"filter": "datum.s == 'band' || datum.s == '4 September 2000'"}],
      "mark": {"type": "line", "color": "#1b1d8a", "strokeWidth": 2.8, "strokeJoin": "round"},
      "encoding": {"y": {"field": "lh", "type": "quantitative"}, "detail": {"field": "s", "type": "nominal"}}
    },
    {
      "data": {"name": "blue"},
      "transform": [{"filter": "datum.s == '14 February 1999' || datum.s == '3 September 1999'"}],
      "mark": {"type": "line", "color": "#1b1d8a", "strokeWidth": 1.3, "strokeJoin": "round"},
      "encoding": {"y": {"field": "lh", "type": "quantitative"}, "detail": {"field": "s", "type": "nominal"}}
    },
    {
      "data": {"name": "blueSpikes"},
      "mark": {"type": "rule", "color": "#1b1d8a", "strokeWidth": 1.3},
      "encoding": {"y": {"field": "lo", "type": "quantitative"}, "y2": {"field": "hi"}}
    },
    {
      "data": {"name": "red"},
      "mark": {"type": "line", "color": "#e5442a", "strokeWidth": 1.8},
      "encoding": {"y": {"field": "lh", "type": "quantitative"}, "detail": {"field": "s", "type": "nominal"}}
    },
    {
      "data": {"name": "redSpikes"},
      "mark": {"type": "rule", "color": "#e5442a", "strokeWidth": 1.8},
      "encoding": {"y": {"field": "lo", "type": "quantitative"}, "y2": {"field": "hi"}}
    },
    {
      "data": {"name": "leaders"},
      "mark": {"type": "rule", "color": "#333333", "strokeWidth": 1},
      "encoding": {"y": {"field": "lo", "type": "quantitative"}, "y2": {"field": "hi"}}
    },
    {
      "data": {"name": "dates"},
      "mark": {"type": "text", "fontSize": 18, "color": "#1e1e1e", "align": "center", "baseline": "middle"},
      "encoding": {"y": {"field": "lh", "type": "quantitative"}, "text": {"field": "label"}}
    },
    {
      "data": {"name": "heading"},
      "mark": {"type": "text", "fontSize": 16, "color": "#1e1e1e", "align": "center", "baseline": "middle"},
      "encoding": {"y": {"field": "lh", "type": "quantitative"}, "text": {"field": "label"}}
    },
    {
      "data": {"name": "snLabel"},
      "mark": {"type": "text", "fontSize": 17, "color": "#dfeeee", "align": "center", "baseline": "middle"},
      "encoding": {"y": {"field": "lh", "type": "quantitative"}, "text": {"field": "label"}}
    },
    {
      "data": {"name": "nsLabel"},
      "mark": {"type": "text", "fontSize": 17, "color": "#1e1e1e", "align": "center", "baseline": "middle", "angle": 14},
      "encoding": {"y": {"field": "lh", "type": "quantitative"}, "text": {"field": "label"}}
    },
    {
      "data": {"name": "goalLabels"},
      "mark": {"type": "text", "fontSize": 17, "color": "#1e1e1e", "align": "center", "baseline": "middle", "angle": 347.5},
      "encoding": {"y": {"field": "lh", "type": "quantitative"}, "text": {"field": "label"}}
    }
  ]
}
